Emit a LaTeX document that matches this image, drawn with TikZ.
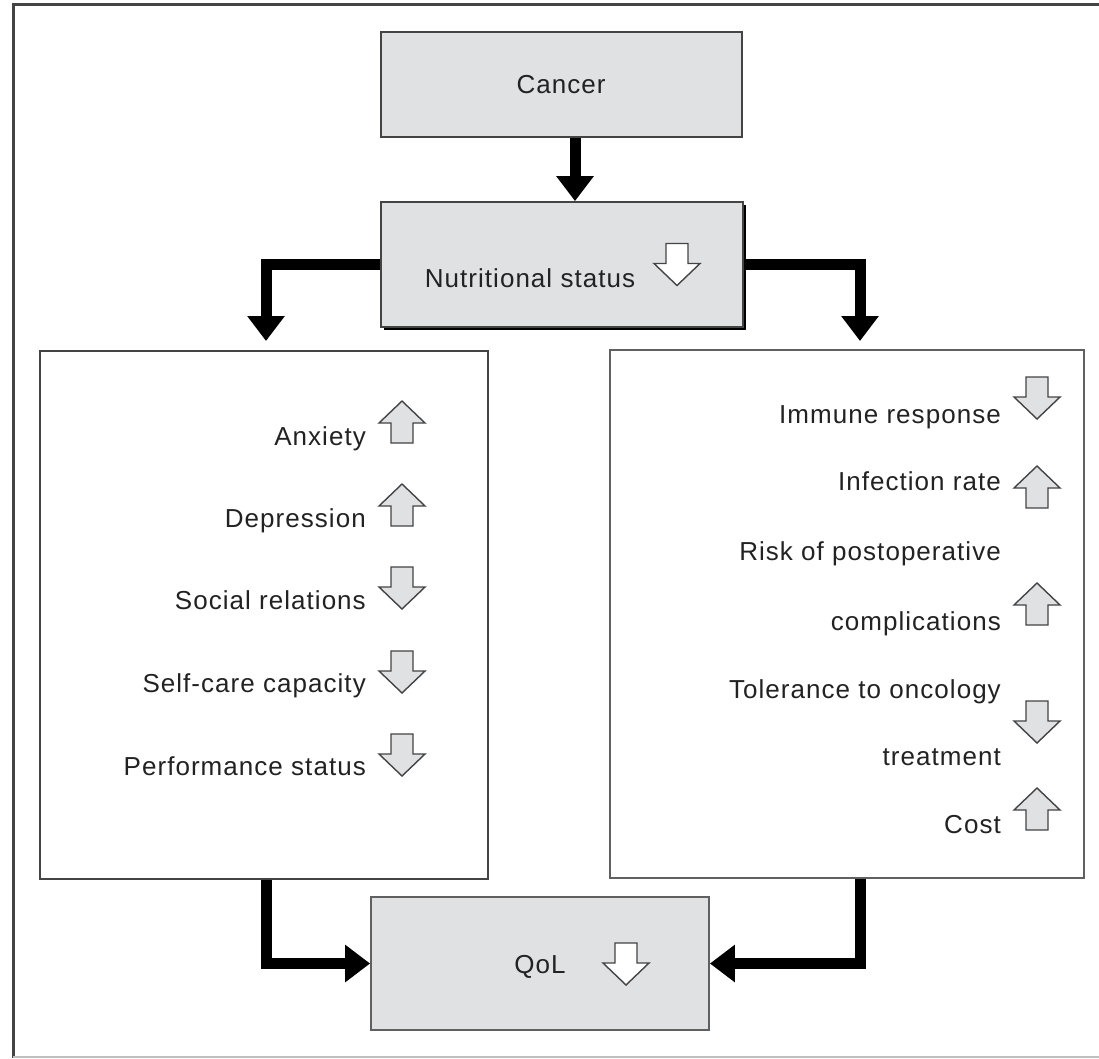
\documentclass[tikz,border=0pt]{standalone}
\usepackage{fontspec}
\setmainfont{Liberation Sans}[LetterSpace=4]
\usetikzlibrary{arrows.meta}
\definecolor{boxgray}{HTML}{E0E1E3}
\definecolor{txt}{HTML}{222222}
\definecolor{edge}{HTML}{444444}
\tikzset{
  lbl/.style={inner sep=0pt, text=txt, font=\fontsize{26}{30}\selectfont},
  graybox/.style={draw=edge, line width=1.8pt, fill=boxgray, inner sep=0pt},
  whitebox/.style={draw=edge, line width=2pt, fill=white, inner sep=0pt},
  conn/.style={line width=11pt, black, -{Triangle[length=25pt,width=36pt]}},
  smallarr/.style={draw=edge, line width=1.4pt, fill=boxgray, line join=miter},
  whitearr/.style={draw=edge, line width=1.4pt, fill=white, line join=miter},
  uparr/.pic={\path[pic actions] (0,-21) -- (23,1) -- (11,1) -- (11,21) -- (-11,21) -- (-11,1) -- (-23,1) -- cycle;},
  downarr/.pic={\path[pic actions] (0,21) -- (23,-1) -- (11,-1) -- (11,-21) -- (-11,-21) -- (-11,-1) -- (-23,-1) -- cycle;}
}
\begin{document}
\begin{tikzpicture}[x=1pt,y=-1pt]
\useasboundingbox (0,0) rectangle (1099,1058);
% outer frame
\draw[line width=3pt, edge] (1099,4) -- (13,4) -- (13,1058);
\draw[line width=2pt, black!25] (13,1056.5) -- (1099,1056.5);
% boxes
\node[graybox, minimum width=361pt, minimum height=105pt] (cancer) at (561.5,84.5) {};
\fill[black] (383.5,204.5) rectangle (745.5,329.5);
\node[graybox, minimum width=362pt, minimum height=125pt] (nutr) at (562,264.5) {};
\node[whitebox, minimum width=448pt, minimum height=528pt] (left) at (264,614.5) {};
\node[whitebox, draw=edge!85, minimum width=474pt, minimum height=528pt] (right) at (847,614) {};
\node[graybox, draw=edge!85, minimum width=338pt, minimum height=133pt] (qol) at (540,963.5) {};
% box texts
\node[lbl, anchor=base] (tcancer) at (561,93) {Cancer};
\node[lbl, anchor=base] (tnutr) at (530,287) {Nutritional status};
\node[lbl, anchor=base] (tqol) at (540,973) {QoL};
\pic[whitearr] at (677,264.5) {downarr};
\pic[whitearr] at (626,964) {downarr};
% connectors
\coordinate (cn) at (575,137.5);
\coordinate (lt) at (266,341);
\coordinate (rt) at (860,341);
\draw[conn] (cn) -- (cn |- nutr.north);
\draw[conn] (nutr.west) -| (lt);
\draw[conn] (nutr.east) -| (rt);
\draw[conn] (left.south -| lt) |- (qol.west);
\draw[conn] (right.south -| rt) |- (qol.east);
% left items
\node[lbl, anchor=base east] (anx) at (366,445) {Anxiety};
\node[lbl, anchor=base east] (dep) at (366,527) {Depression};
\node[lbl, anchor=base east] (soc) at (366,609) {Social relations};
\node[lbl, anchor=base east] (self) at (366,692) {Self-care capacity};
\node[lbl, anchor=base east] (perf) at (366,775) {Performance status};
\pic[smallarr] at (402,422) {uparr};
\pic[smallarr] at (402,505) {uparr};
\pic[smallarr] at (402,588) {downarr};
\pic[smallarr] at (402,672) {downarr};
\pic[smallarr] at (402,755) {downarr};
% right items
\node[lbl, anchor=base east] (imm) at (1001,423) {Immune response};
\node[lbl, anchor=base east] (inf) at (1001,490) {Infection rate};
\node[lbl, anchor=base east] (risk) at (1001,560) {Risk of postoperative};
\node[lbl, anchor=base east] (comp) at (1001,630) {complications};
\node[lbl, anchor=base east] (tol) at (1001,698) {Tolerance to oncology};
\node[lbl, anchor=base east] (treat) at (1001,765) {treatment};
\node[lbl, anchor=base east] (cost) at (1001,833) {Cost};
\pic[smallarr] at (1037,398) {downarr};
\pic[smallarr] at (1037,487) {uparr};
\pic[smallarr] at (1037,604) {uparr};
\pic[smallarr] at (1037,722) {downarr};
\pic[smallarr] at (1037,809) {uparr};
\end{tikzpicture}
\end{document}
